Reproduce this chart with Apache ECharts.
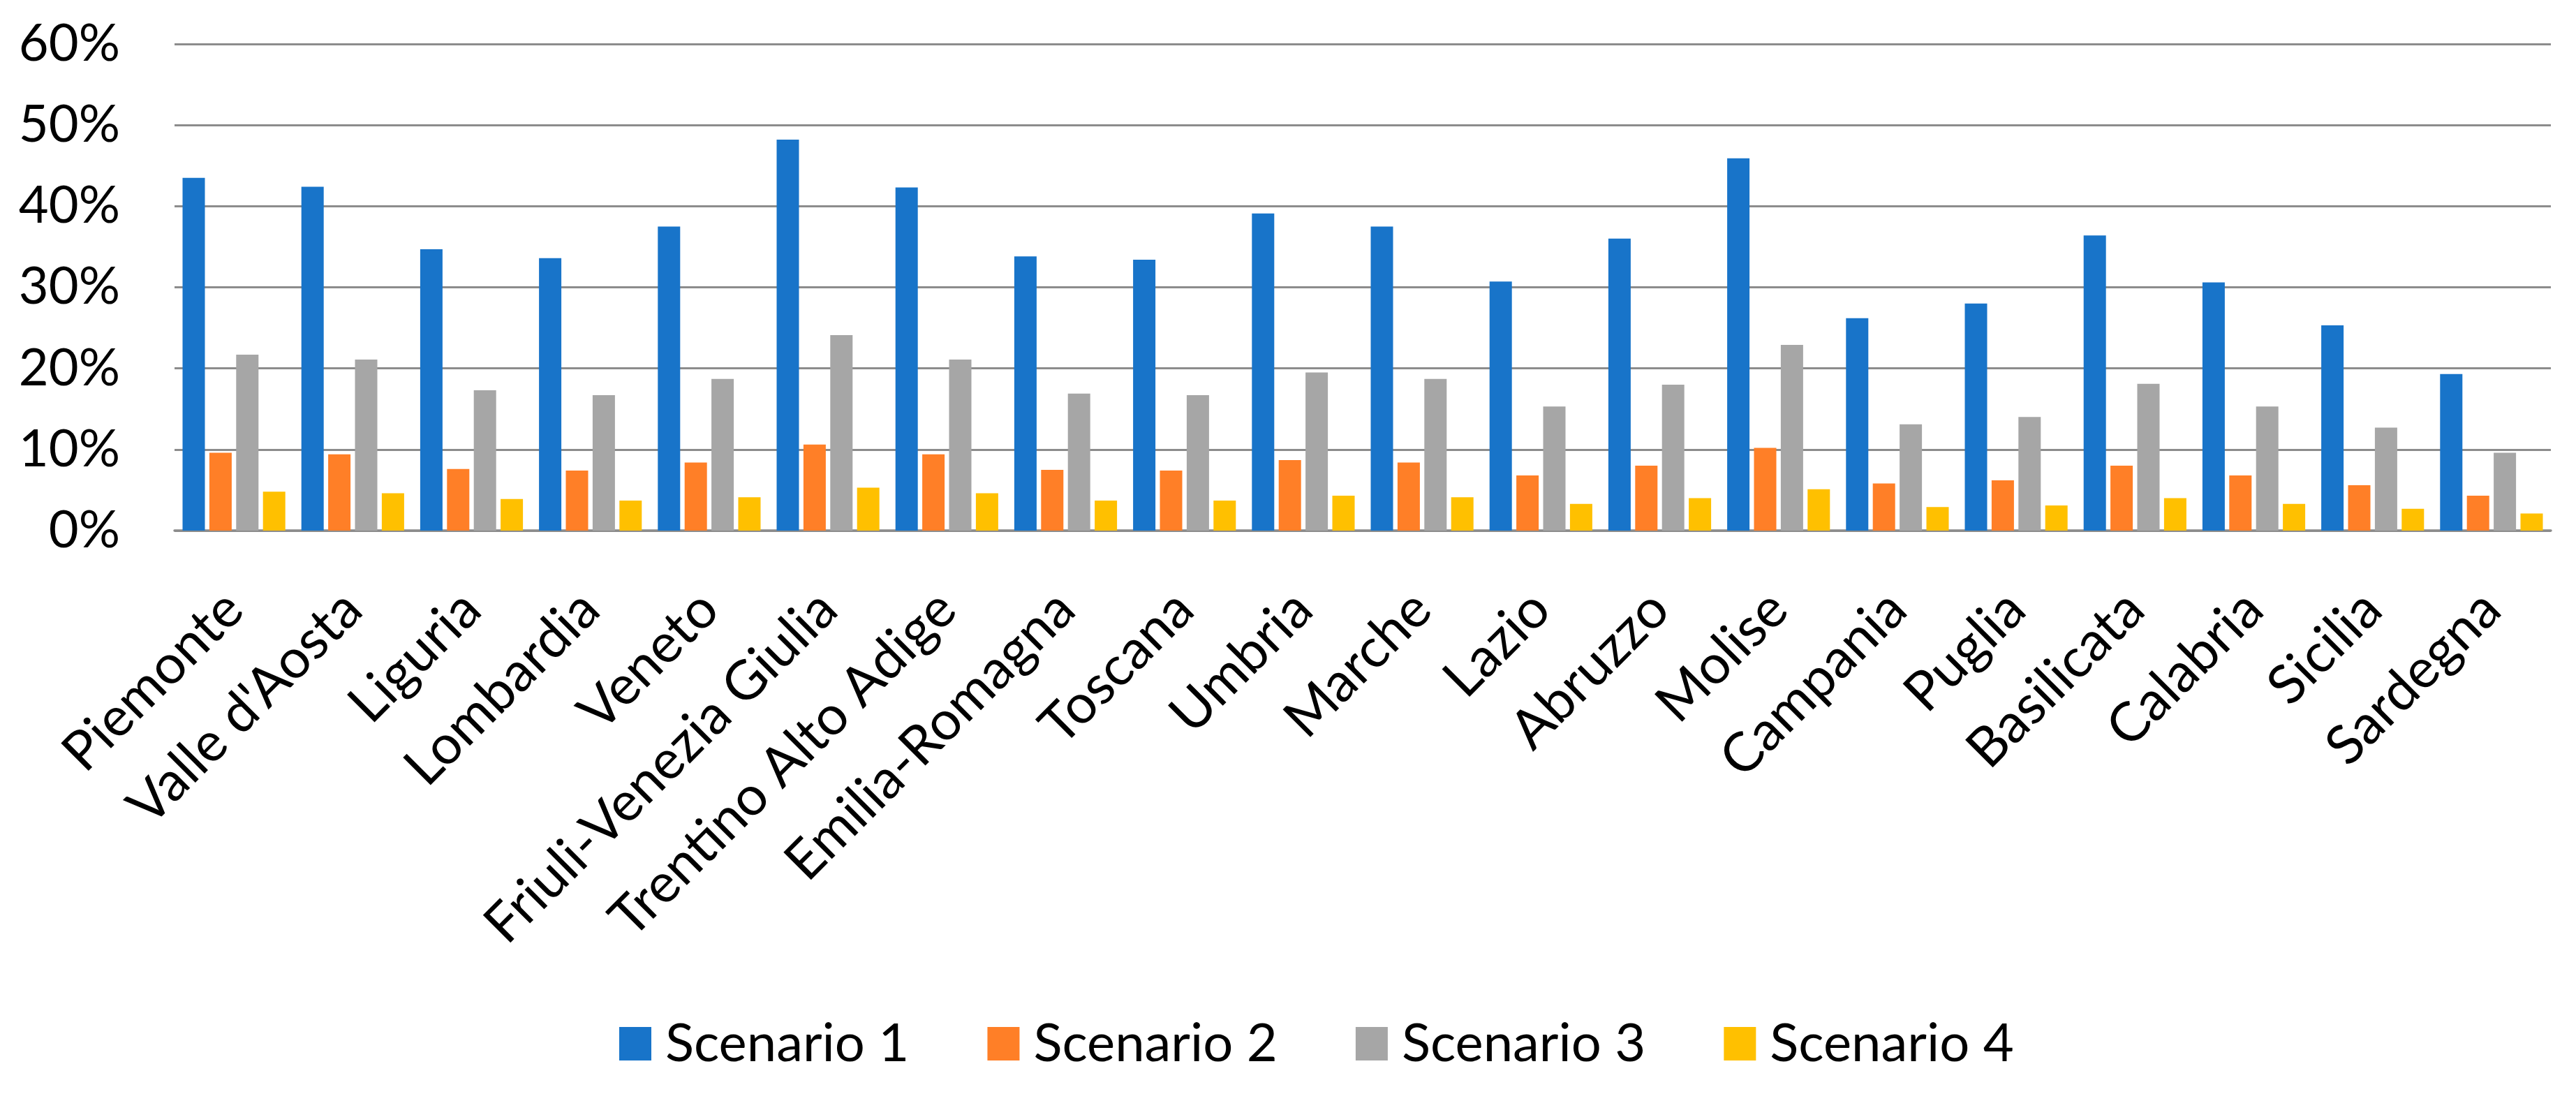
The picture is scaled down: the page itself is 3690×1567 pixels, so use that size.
<!DOCTYPE html>
<html>
<head>
<meta charset="utf-8">
<script src="https://cdn.jsdelivr.net/npm/echarts@6/dist/echarts.min.js"></script>
<style>
html,body{margin:0;padding:0;background:#fff;}
#chart{width:3690px;height:1567px;}
</style>
</head>
<body>
<div id="chart"></div>
<script>
const categories = ["Piemonte","Valle d'Aosta","Liguria","Lombardia","Veneto","Friuli-Venezia Giulia","Trentino Alto Adige","Emilia-Romagna","Toscana","Umbria","Marche","Lazio","Abruzzo","Molise","Campania","Puglia","Basilicata","Calabria","Sicilia","Sardegna"];
const scenario1 = [43.5,42.4,34.7,33.6,37.5,48.2,42.3,33.8,33.4,39.1,37.5,30.7,36.0,45.9,26.2,28.0,36.4,30.6,25.3,19.3];
const scenario2 = [9.6,9.4,7.6,7.4,8.4,10.6,9.4,7.5,7.4,8.7,8.4,6.8,8.0,10.2,5.8,6.2,8.0,6.8,5.6,4.3];
const scenario3 = [21.7,21.1,17.3,16.7,18.7,24.1,21.1,16.9,16.7,19.5,18.7,15.3,18.0,22.9,13.1,14.0,18.1,15.3,12.7,9.6];
const scenario4 = [4.8,4.6,3.9,3.7,4.1,5.3,4.6,3.7,3.7,4.3,4.1,3.3,4.0,5.1,2.9,3.1,4.0,3.3,2.7,2.1];
const seriesNames = ["Scenario 1","Scenario 2","Scenario 3","Scenario 4"];
const yTicks = {min:0, max:60, interval:10};

const colors = ['#1874C9','#FF7F27','#A6A6A6','#FFC000'];
const font = 'Lato';
const chart = echarts.init(document.getElementById('chart'));
const data = [scenario1, scenario2, scenario3, scenario4];
chart.setOption({
  animation:false,
  backgroundColor:'#fff',
  grid:{left:250, right:36, top:63, bottom:807, containLabel:false},
  legend:{
    data:seriesNames,
    left:882, top:1452,
    itemWidth:46, itemHeight:48, itemGap:112,
    icon:'rect',
    textStyle:{fontFamily:font, fontSize:76, color:'#000', padding:[0,0,0,15]}
  },
  xAxis:{
    type:'category', data:categories,
    axisTick:{show:false},
    axisLine:{lineStyle:{color:'#8C8C8C', width:3.5}},
    axisLabel:{rotate:45, interval:0, margin:100, fontFamily:font, fontSize:78, color:'#000'}
  },
  yAxis:{
    type:'value', min:yTicks.min, max:yTicks.max, interval:yTicks.interval,
    axisLine:{show:false}, axisTick:{show:false},
    splitLine:{lineStyle:{color:'#8C8C8C', width:3}},
    axisLabel:{formatter:'{value}%', margin:78, fontFamily:font, fontSize:74, color:'#000'}
  },
  series: seriesNames.map((n,i)=>({
    name:n, type:'bar', data:data[i], barWidth:32, barGap:'20%',
    itemStyle:{color:colors[i]}
  }))
});
</script>
</body>
</html>
